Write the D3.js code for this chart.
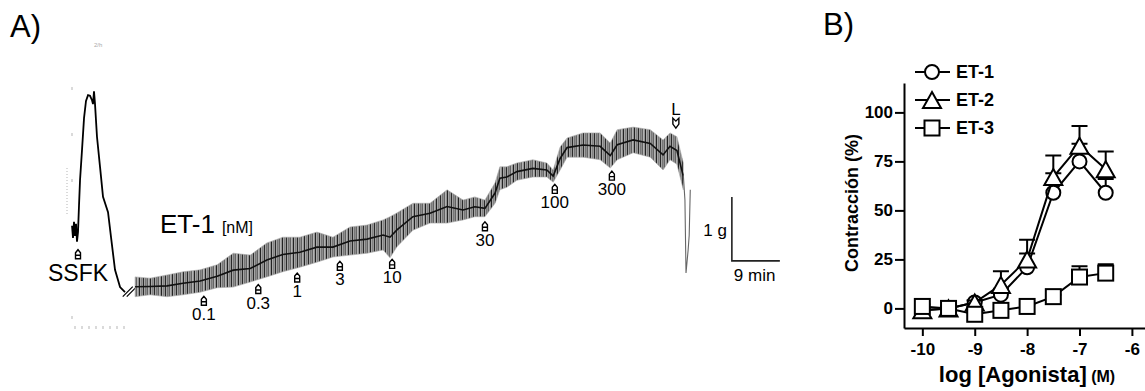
<!DOCTYPE html>
<html>
<head>
<meta charset="utf-8">
<script src="https://cdn.jsdelivr.net/npm/d3@7"></script>
<style>
  body { margin: 0; background: #fff; }
  svg { display: block; font-family: "Liberation Sans", Arial, sans-serif; }
</style>
</head>
<body>
<svg id="fig" width="1145" height="391"></svg>
<script>
// ---------- panel B : concentration-response ----------
var logDose = [-10, -9.5, -9, -8.5, -8, -7.5, -7, -6.5];
var et1 = [-1, 0, 3, 7, 21, 59, 75, 59];
var et1Sem = [1, 1, 1, 3, 7, 10, 9, 7];
var et2 = [-1, 0, 3, 12, 25, 67, 83, 71];
var et2Sem = [1, 1, 1, 7, 10, 11, 10, 9];
var et3 = [1, 0, -3, -1, 1, 6, 16, 18];
var et3Sem = [1, 1, 1, 1, 1, 1, 5.5, 4.5];
var yTicksB = [0, 25, 50, 75, 100];
var xTicksB = [-10, -9, -8, -7, -6];

// ---------- panel A : tension trace (time in min, tension in g) ----------
var preT = [0.38, 0.56, 0.75, 0.94, 1.13, 1.31, 1.5, 1.69, 1.88, 2.25, 2.63, 3.0, 3.38, 3.75, 4.13, 4.31, 4.5, 4.69, 5.06, 5.63, 6.19, 7.13, 7.69, 8.44, 9.38, 10.31];
var preG = [1.63, 1.44, 1.69, 1.47, 1.66, 1.38, 1.53, 1.95, 2.34, 2.81, 3.31, 3.58, 3.67, 3.66, 3.59, 3.53, 3.73, 3.53, 3.02, 2.55, 2.08, 1.84, 1.45, 0.94, 0.67, 0.59];

var traceT = [12.2, 15, 18.2, 21.2, 24.4, 27.6, 30.6, 33.8, 36.9, 39.9, 43.1, 46.3, 49.3, 52.5, 55.7, 58.7, 60, 61.3, 64.3, 67.5, 70.7, 73.7, 75.9, 77.8, 79.7, 80.6, 81.9, 83.8, 86.8, 89.4, 90.6, 91.9, 93.2, 96.2, 99.4, 101.3, 102.6, 105.6, 108.8, 111.2, 112.5, 113.8, 115.0];
var traceHigh = [0.83, 0.81, 0.86, 0.91, 0.94, 1.02, 1.20, 1.17, 1.36, 1.45, 1.45, 1.53, 1.45, 1.61, 1.64, 1.72, 1.77, 1.83, 1.98, 1.98, 2.19, 2.03, 2.08, 2.03, 2.30, 2.55, 2.55, 2.61, 2.66, 2.61, 2.50, 2.86, 3.00, 3.08, 3.08, 2.92, 3.13, 3.17, 3.13, 2.97, 3.08, 3.02, 2.61];
var traceLow = [0.52, 0.55, 0.52, 0.55, 0.59, 0.66, 0.67, 0.75, 0.83, 0.91, 0.98, 1.06, 1.14, 1.17, 1.20, 1.25, 1.13, 1.30, 1.56, 1.67, 1.67, 1.72, 1.77, 1.77, 1.98, 2.19, 2.23, 2.34, 2.39, 2.39, 2.31, 2.50, 2.70, 2.70, 2.66, 2.53, 2.66, 2.77, 2.70, 2.50, 2.66, 2.59, 2.19];
var washT = [115.0, 115.3, 115.5, 115.9, 116.1, 116.3];
var washG = [2.42, 2.03, 0.89, 1.25, 1.48, 2.19];

var doseLabels = ["0.1", "0.3", "1", "3", "10", "30", "100", "300"];
var doseT = [25.1, 35.3, 42.6, 50.6, 60.4, 77.8, 90.9, 101.6];
var ssfkT = 1.5, washoutT = 113.6;

var svg = d3.select("#fig");
svg.append("rect").attr("width", 1145).attr("height", 391).attr("fill", "#fff");

// ===== A =====
var xA = d3.scaleLinear().domain([0, 130]).range([70, 70 + 130 * 48 / 9]);
var yA = d3.scaleLinear().domain([0, 4]).range([330, 74]);

svg.append("text").attr("x", 10).attr("y", 37).attr("font-size", 31).text("A)");

// faint chart-recorder marks from the scan
var faint = svg.append("g").attr("stroke", "#b5b5b5").attr("stroke-width", 1);
[87, 133, 179, 316].forEach(function (y) {
  faint.append("line").attr("x1", 72).attr("x2", 72).attr("y1", y).attr("y2", y + 3);
});
faint.append("line").attr("x1", 67).attr("x2", 67).attr("y1", 168).attr("y2", 214).attr("stroke-dasharray", "1,2");
d3.range(8).forEach(function (i) {
  faint.append("line").attr("x1", 75 + i * 7).attr("x2", 75 + i * 7).attr("y1", 326).attr("y2", 329);
});
svg.append("text").attr("x", 94).attr("y", 47).attr("font-size", 6).attr("fill", "#aaa").text("2/h");

// texture for the fast oscillations of the recording
var defs = svg.append("defs");
var pat = defs.append("pattern").attr("id", "noise").attr("patternUnits", "userSpaceOnUse")
  .attr("width", 11).attr("height", 9);
pat.append("rect").attr("width", 11).attr("height", 9).attr("fill", "#c4c4c4");
[[0, 1.2, "#2a2a2a"], [2, 1, "#777"], [3.6, 1.1, "#3a3a3a"], [5.6, 0.9, "#999"],
 [6.8, 1.2, "#222"], [8.7, 1, "#666"], [10, 0.8, "#8a8a8a"]].forEach(function (p) {
  pat.append("rect").attr("x", p[0]).attr("width", p[1]).attr("height", 9).attr("fill", p[2]);
});

// pre-break segment
svg.append("path")
  .datum(d3.range(preT.length))
  .attr("d", d3.line().x(function (i) { return xA(preT[i]); }).y(function (i) { return yA(preG[i]); }))
  .attr("fill", "none").attr("stroke", "#000").attr("stroke-width", 1.8);

// break marks
var bx = xA(11.2), by = yA(0.6);
[-2, 2].forEach(function (o) {
  svg.append("line").attr("x1", bx + o - 5).attr("y1", by + 5).attr("x2", bx + o + 5).attr("y2", by - 5)
    .attr("stroke", "#000").attr("stroke-width", 1.2);
});

// noisy trace as min/max band
var idx = d3.range(traceT.length);
svg.append("path").datum(idx)
  .attr("d", d3.area()
    .x(function (i) { return xA(traceT[i]); })
    .y0(function (i) { return yA(traceLow[i]); })
    .y1(function (i) { return yA(traceHigh[i]); }))
  .attr("fill", "url(#noise)").attr("stroke", "#aaa").attr("stroke-width", 0.6);
svg.append("path").datum(idx)
  .attr("d", d3.line()
    .x(function (i) { return xA(traceT[i]); })
    .y(function (i) { return yA((traceLow[i] + traceHigh[i]) / 2); }))
  .attr("fill", "none").attr("stroke", "#111").attr("stroke-width", 1.6);
svg.append("path").datum(d3.range(washT.length))
  .attr("d", d3.line().x(function (i) { return xA(washT[i]); }).y(function (i) { return yA(washG[i]); }))
  .attr("fill", "none").attr("stroke", "#666").attr("stroke-width", 1.1);

function lowAt(t) {
  var i = Math.max(1, Math.min(traceT.length - 1, d3.bisectLeft(traceT, t)));
  var f = (t - traceT[i - 1]) / (traceT[i] - traceT[i - 1]);
  return traceLow[i - 1] + f * (traceLow[i] - traceLow[i - 1]);
}
function upArrow(x, y) {
  svg.append("path").attr("transform", "translate(" + x + "," + y + ")")
    .attr("d", "M-2.5,9V3L0,0L2.5,3V9ZM-2.5,5.5H2.5")
    .attr("fill", "#fff").attr("stroke", "#000").attr("stroke-width", 1.4);
}

doseT.forEach(function (t, i) {
  var x = xA(t), top = yA(lowAt(t)) + 5;
  upArrow(x, top);
  svg.append("text").attr("x", x).attr("y", top + 24).attr("text-anchor", "middle")
    .attr("font-size", 17).text(doseLabels[i]);
});

// SSFK
var sx = xA(ssfkT), sTop = yA(d3.min(preG.slice(0, 7))) + 8;
upArrow(sx, sTop);
svg.append("text").attr("x", sx).attr("y", sTop + 31).attr("text-anchor", "middle")
  .attr("font-size", 23).text("SSFK");

// washout (L)
var lx = xA(washoutT), lTop = yA(3.17) + 1;
svg.append("path").attr("transform", "translate(" + lx + "," + (lTop - 10) + ")")
  .attr("d", "M-3,0V6L0,10L3,6V0L0,3Z")
  .attr("fill", "#fff").attr("stroke", "#000").attr("stroke-width", 1.4);
svg.append("text").attr("x", lx).attr("y", lTop - 13).attr("text-anchor", "middle")
  .attr("font-size", 17).text("L");

var et = svg.append("text").attr("x", 160).attr("y", 233).attr("font-size", 26).text("ET-1");
et.append("tspan").attr("font-size", 16).attr("dx", 7).text("[nM]");

// scale bar 1 g / 9 min
var sbT = 124.1, sbG = 1.08;
svg.append("path")
  .attr("d", "M" + xA(sbT) + "," + yA(sbG + 1) + "V" + yA(sbG) + "H" + xA(sbT + 9))
  .attr("fill", "none").attr("stroke", "#222").attr("stroke-width", 1.6);
svg.append("text").attr("x", xA(sbT) - 5).attr("y", yA(sbG + 0.5) + 7).attr("text-anchor", "end")
  .attr("font-size", 17).text("1 g");
svg.append("text").attr("x", xA(sbT) + 2).attr("y", yA(sbG) + 20)
  .attr("font-size", 17).text("9 min");

// ===== B =====
var xB = d3.scaleLinear().domain([-10.35, -5.75]).range([904, 1145]);
var yB = d3.scaleLinear().domain([-10, 115]).range([328, 83]);

svg.append("text").attr("x", 823).attr("y", 35).attr("font-size", 31).text("B)");

var gx = svg.append("g").attr("transform", "translate(0," + yB(-10) + ")")
  .call(d3.axisBottom(xB).tickValues(xTicksB).tickFormat(function (d) { return String(d); })
    .tickSize(8).tickSizeOuter(0).tickPadding(7));
var gy = svg.append("g").attr("transform", "translate(" + xB(-10.35) + ",0)")
  .call(d3.axisLeft(yB).tickValues(yTicksB).tickFormat(function (d) { return String(d); })
    .tickSize(9).tickSizeOuter(0).tickPadding(2));
[gx, gy].forEach(function (g) {
  g.selectAll("path, line").attr("stroke", "#000").attr("stroke-width", 2);
  g.selectAll("text").attr("font-size", 17).attr("font-weight", "bold").attr("fill", "#000")
    .attr("font-family", "Liberation Sans, Arial, sans-serif");
});

svg.append("text").attr("transform", "translate(858,203) rotate(-90)").attr("text-anchor", "middle")
  .attr("font-size", 18).attr("font-weight", "bold").text("Contracción (%)");
var xt = svg.append("text").attr("x", 1027).attr("y", 382).attr("text-anchor", "middle")
  .attr("font-size", 22).attr("font-weight", "bold").text("log [Agonista]");
xt.append("tspan").attr("font-size", 16).text(" (M)");

function symbol(g, type, x, y) {
  var s;
  if (type === "circle") s = g.append("circle").attr("cx", x).attr("cy", y).attr("r", 7);
  else if (type === "triangle") s = g.append("path").attr("d", "M" + x + "," + (y - 8) + "l9,16h-18z");
  else s = g.append("rect").attr("x", x - 7.5).attr("y", y - 7.5).attr("width", 15).attr("height", 15);
  s.attr("fill", "#fff").attr("stroke", "#000").attr("stroke-width", 2);
}

var series = [
  { name: "ET-1", vals: et1, sem: et1Sem, sym: "circle" },
  { name: "ET-2", vals: et2, sem: et2Sem, sym: "triangle" },
  { name: "ET-3", vals: et3, sem: et3Sem, sym: "square" }
];

series.forEach(function (s) {
  var g = svg.append("g");
  g.append("path").datum(d3.range(logDose.length))
    .attr("d", d3.line().x(function (i) { return xB(logDose[i]); }).y(function (i) { return yB(s.vals[i]); }))
    .attr("fill", "none").attr("stroke", "#000").attr("stroke-width", 2);
  logDose.forEach(function (d, i) {
    var x = xB(d), top = yB(s.vals[i] + s.sem[i]);
    g.append("path").attr("d", "M" + x + "," + yB(s.vals[i]) + "V" + top + "M" + (x - 8) + "," + top + "H" + (x + 8))
      .attr("fill", "none").attr("stroke", "#000").attr("stroke-width", 2);
  });
  logDose.forEach(function (d, i) { symbol(g, s.sym, xB(d), yB(s.vals[i])); });
});

// legend
series.forEach(function (s, k) {
  var ly = 72 + k * 28;
  svg.append("line").attr("x1", 915).attr("x2", 950).attr("y1", ly).attr("y2", ly)
    .attr("stroke", "#000").attr("stroke-width", 2);
  symbol(svg, s.sym, 932, ly);
  svg.append("text").attr("x", 956).attr("y", ly + 6).attr("font-size", 18).attr("font-weight", "bold").text(s.name);
});
</script>
</body>
</html>
